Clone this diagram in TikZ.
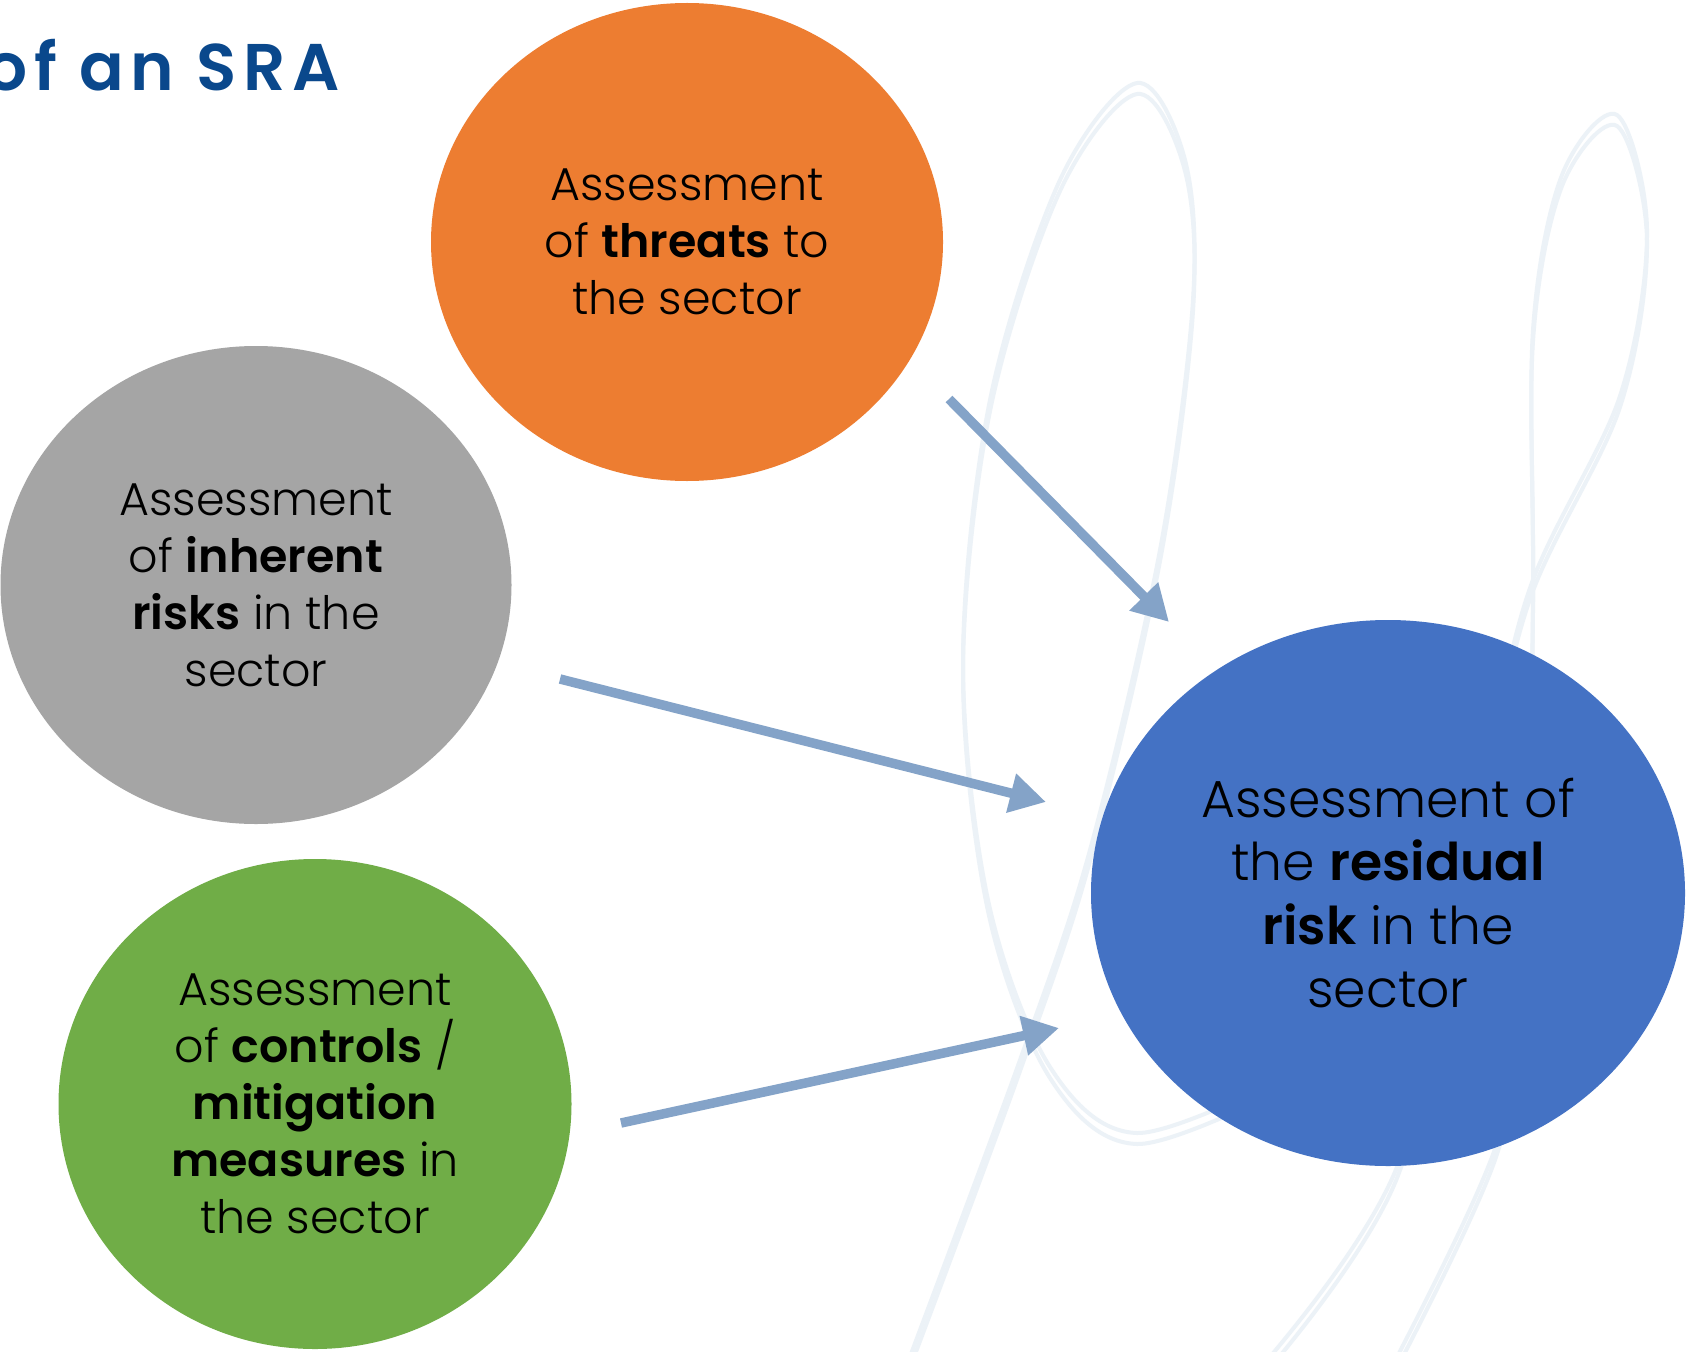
\documentclass[tikz,border=0pt]{standalone}
\usepackage{fontspec}
\setmainfont{Poppins Light}[BoldFont={Poppins SemiBold}]
\newfontfamily\titlefont{Poppins SemiBold}[LetterSpace=10]
\usetikzlibrary{shapes.geometric,arrows.meta}
\definecolor{threatc}{RGB}{237,125,49}
\definecolor{inherc}{RGB}{165,165,165}
\definecolor{ctrlc}{RGB}{112,173,71}
\definecolor{resc}{RGB}{68,114,196}
\definecolor{arrowc}{RGB}{132,163,200}
\definecolor{swirlc}{RGB}{236,242,247}
\definecolor{titlec}{RGB}{10,72,140}

\begin{document}
\begin{tikzpicture}[x=1pt,y=-1pt,
  swirl/.style={draw=swirlc, line width=4pt, line cap=round, line join=round},
  blob/.style={ellipse, inner sep=0pt, align=center, text=black,
               font=\fontsize{46}{57}\selectfont},
  flow/.style={draw=arrowc, line width=9.5pt, -{Triangle[length=36pt,width=38pt]}}]
\useasboundingbox[fill=white] (0,0) rectangle (1688,1351);

% decorative double-stroke swirls in the background
\foreach \dy in {0,-11} {
  \draw[swirl, yshift=\dy pt] plot[smooth, tension=0.55] coordinates {
    (1290,1075) (1137,1133) (1050,1067) (988,900) (963,660) (990,400)
    (1060,180) (1137,83) (1185,160) (1193,300) (1160,550) (1090,850)
    (1020,1060) (905,1370)};
  \draw[swirl, yshift=\dy pt] plot[smooth, tension=0.55] coordinates {
    (1250,1380) (1397,1167) (1480,800) (1530,588) (1620,396) (1647,230)
    (1617,115) (1562,175) (1533,330) (1533,600) (1525,950) (1497,1143)
    (1385,1380)};
}

% assessment blocks
\node[blob, fill=threatc, minimum width=512pt, minimum height=478pt] (threat) at (687,242)
  {Assessment\\of \textbf{threats} to\\the sector};
\node[blob, fill=inherc, minimum width=511pt, minimum height=478pt] (inherent) at (256,585)
  {Assessment\\of \textbf{inherent}\\\textbf{risks} in the\\sector};
\node[blob, fill=ctrlc, minimum width=513pt, minimum height=490pt] (controls) at (315,1104)
  {Assessment\\of \textbf{controls} /\\\textbf{mitigation}\\\textbf{measures} in\\the sector};
\node[blob, fill=resc, minimum width=594pt, minimum height=546pt,
      font=\fontsize{52}{63.5}\selectfont] (residual) at (1388,893)
  {Assessment of\\the \textbf{residual}\\\textbf{risk} in the\\sector};

% connector end points
\coordinate (threat-out) at (949,399);
\coordinate (residual-in1) at (1169,622);
\coordinate (inherent-out) at (560,679);
\coordinate (residual-in2) at (1046,802);
\coordinate (controls-out) at (621,1123);
\coordinate (residual-in3) at (1059,1028);

\draw[flow] (threat-out) -- (residual-in1);
\draw[flow] (inherent-out) -- (residual-in2);
\draw[flow] (controls-out) -- (residual-in3);

% heading
\node[anchor=base east, inner sep=0pt, text=titlec,
      font=\titlefont\fontsize{66}{70}\selectfont] (heading) at (340,91) {of an SRA};
\end{tikzpicture}
\end{document}
